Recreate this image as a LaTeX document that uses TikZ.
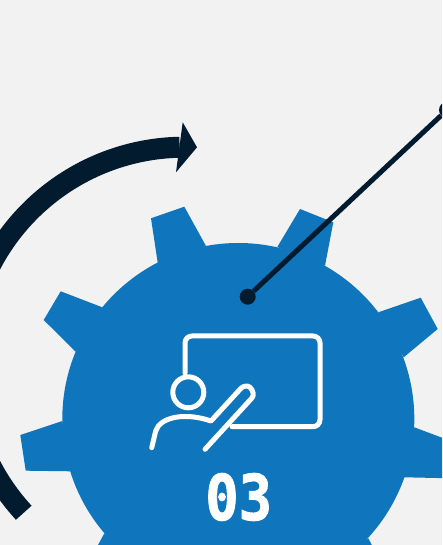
\documentclass[tikz,border=0pt]{standalone}
\usepackage{fontspec}
\usepackage{xcolor}
\usetikzlibrary{positioning}
\newfontfamily\digitfont[FakeBold=1.6]{DejaVu Sans Mono}
\definecolor{paper}{HTML}{f2f2f2}
\definecolor{gearBlue}{HTML}{0f75bc}
\definecolor{ink}{HTML}{021b2e}

\begin{document}
\begin{tikzpicture}[
  x=1pt, y=1pt,
  dot/.style={circle, fill=ink, inner sep=0pt, minimum size=16pt},
  leader/.style={draw=ink, line width=5pt},
  sweep/.style={draw=ink, line width=21pt},
  icon/.style={draw=white, line width=5pt, line cap=round, line join=round},
]
  \useasboundingbox (0,0) rectangle (442,545);
  \clip (0,0) rectangle (442,545);
  \fill[paper] (0,0) rectangle (442,545);

  % arrow round the gear
  \draw[sweep] (184.2,179.8) ++(222.6:218pt) arc[start angle=222.6, end angle=91.2, radius=218pt];
  \fill[ink] (182.7,422.7) -- (197,397.7) -- (176,372.7) -- cycle;

  % gear
  \fill[gearBlue] (238.3,126) circle[radius=176pt];
  \foreach \p in {
    {(151,326.7) -- (184.3,338.3) -- (206,299) -- (157.7,282.3)},
    {(277.3,298) -- (300,336) -- (333.3,322.7) -- (325,279.3)},
    {(378.3,232.7) -- (420.7,247.3) -- (437.7,216) -- (403.7,187.7)},
    {(414.3,117.7) -- (460,100.5) -- (460,66.5) -- (404,67.7)},
    {(62.3,124) -- (20.3,110) -- (25.7,74.3) -- (70.7,73.7)},
    {(102.3,237.7) -- (60.7,253.7) -- (43.7,225) -- (76,193)},
    {(368.3,6.7) -- (385,-25) -- (320,-25)},
    {(104.3,11.7) -- (90,-15) -- (150,-25)}}
    \fill[gearBlue] \p -- cycle;

  % leader line
  \node[dot] (dotA) at (247.7,248.3) {};
  \node[dot] (dotB) at (447,435) {};
  \draw[leader] (dotA) -- (dotB);

  % teacher icon
  \draw[icon] (185,172) -- (185,202) arc[start angle=180, end angle=90, radius=7pt]
    -- (313,209) arc[start angle=90, end angle=0, radius=7pt]
    -- (320,125.3) arc[start angle=0, end angle=-90, radius=7pt] -- (232,118.3);
  \draw[icon] (188.3,152.7) circle[radius=15.5pt];
  \draw[icon] (151.7,97.3) -- (155.7,114) .. controls (160,128) and (185,133) .. (211,124)
    -- (240,155.7) .. controls (245,161) and (250,159.5) .. (252,155)
    .. controls (254,151) and (253.5,148.5) .. (251,146) -- (205,95.7);

  \node[text=white, inner sep=0pt, xscale=0.88] (num) at (238.7,48) {\fontsize{63}{63}\digitfont\bfseries 03};
\end{tikzpicture}
\end{document}
